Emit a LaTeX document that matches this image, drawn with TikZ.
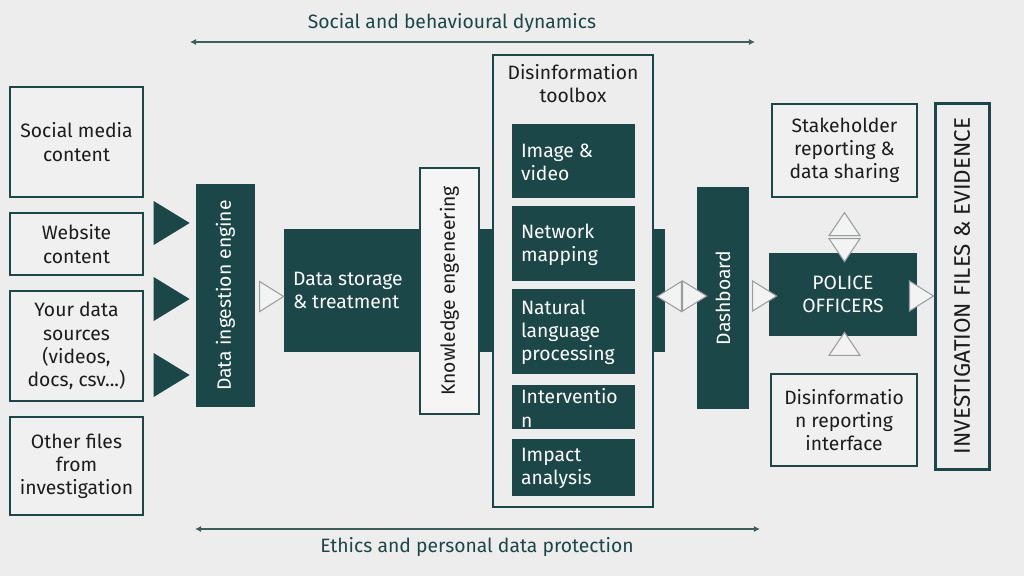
\documentclass[tikz,border=0pt]{standalone}
\usepackage{fontspec}
\setmainfont{Fira Sans}
\usetikzlibrary{positioning,fit,calc,arrows.meta}

\definecolor{darkteal}{HTML}{1B4749}
\definecolor{pagebg}{HTML}{EDEDED}
\definecolor{boxfill}{HTML}{F0F0F0}
\definecolor{kefill}{HTML}{F5F5F5}
\definecolor{hollowline}{HTML}{9A9E9E}
\definecolor{hollowfill}{HTML}{F3F3F3}
\definecolor{inktext}{HTML}{1C1C1C}
\definecolor{dimline}{HTML}{3D5E5F}

\tikzset{
  every node/.style={font=\fontsize{11}{13.2}\selectfont},
  srcbox/.style={draw=darkteal, line width=0.6pt, fill=boxfill, inner sep=0pt},
  darkbox/.style={fill=darkteal, inner sep=0pt},
  boxtext/.style={align=center, text=inktext, inner sep=0pt},
  lighttext/.style={align=center, text=white, inner sep=0pt},
  itemtext/.style={anchor=west, align=left, text=white, inner sep=0pt},
  hollow/.style={draw=hollowline, fill=hollowfill, line width=0.6pt, line join=miter},
  solidtri/.style={fill=darkteal},
  dimarrow/.style={draw=dimline, line width=0.6pt, {Latex[length=3.5pt,width=3.5pt]}-{Latex[length=3.5pt,width=3.5pt]}},
  dimlabel/.style={text=darkteal, font=\fontsize{11}{13}\selectfont},
  % arrow-head shapes, tip at the origin
  bigtri/.pic={\path[pic actions] (-36,-22) -- (0,0) -- (-36,22) -- cycle;},
  rtri/.pic={\path[pic actions] (-24,-15) -- (0,0) -- (-24,15) -- cycle;},
  ltri/.pic={\path[pic actions] (24,-15) -- (0,0) -- (24,15) -- cycle;},
  utri/.pic={\path[pic actions] (-15.5,23) -- (0,0) -- (15.5,23) -- cycle;},
  dtri/.pic={\path[pic actions] (-15.5,-23) -- (0,0) -- (15.5,-23) -- cycle;},
}

\begin{document}
\begin{tikzpicture}[x=0.02cm, y=-0.02cm]
  \useasboundingbox (0,0) rectangle (1024,576);
  \fill[pagebg] (0,0) rectangle (1024,576);

  % Sources
  \node[srcbox, fit={(10,87) (143,197)}] (social) {};
  \node[boxtext] (socialtext) at (social.center) {Social media\\content};
  \node[srcbox, fit={(10,213) (143,275)}] (website) {};
  \node[boxtext] (websitetext) at (website.center) {Website\\content};
  \node[srcbox, fit={(10,291) (143,401)}] (sources) {};
  \node[boxtext] (sourcestext) at (sources.center) {Your data\\sources\\(videos,\\docs, csv...)};
  \node[srcbox, fit={(10,417) (143,515)}] (otherfiles) {};
  \node[boxtext] (otherfilestext) at (otherfiles.center) {Other files\\from\\investigation};

  % Ingestion and storage
  \node[darkbox, fit={(196,184) (255,407)}] (ingest) {};
  \node[lighttext, rotate=90] (ingesttext) at (ingest.center) {Data ingestion engine};
  \node[darkbox, fit={(284,229) (665,352)}] (storage) {};
  \node[itemtext] (storagetext) at ($(storage.west)+(9,0)$) {Data storage\\\& treatment};
  \node[srcbox, fill=kefill, fit={(420,168) (479,414)}] (knowledge) {};
  \node[boxtext, rotate=90] (knowledgetext) at (knowledge.center) {Knowledge engeneering};

  % Toolbox
  \node[srcbox, fill=pagebg, fit={(493,55) (653,507)}] (toolbox) {};
  \node[boxtext] (toolboxtitle) at (573,83.5) {Disinformation\\toolbox};
  \node[darkbox, fit={(512,124) (635,198)}] (image) {};
  \node[itemtext] (imagetext) at ($(image.west)+(9,1)$) {Image \&\\video};
  \node[darkbox, fit={(512,206) (635,281)}] (network) {};
  \node[itemtext] (networktext) at ($(network.west)+(9,1)$) {Network\\mapping};
  \node[darkbox, fit={(512,289) (635,374)}] (nlp) {};
  \node[itemtext] (nlptext) at ($(nlp.west)+(9,1)$) {Natural\\language\\processing};
  \node[darkbox, fit={(512,385) (635,429)}] (intervention) {};
  \node[itemtext] (interventiontext) at ($(intervention.west)+(9,1)$) {Interventio\\n};
  \node[darkbox, fit={(512,439) (635,496)}] (impact) {};
  \node[itemtext] (impacttext) at ($(impact.west)+(9,1)$) {Impact\\analysis};

  % Dashboard and police
  \node[darkbox, fit={(697,187) (749,409)}] (dash) {};
  \node[lighttext, rotate=90] (dashtext) at (dash.center) {Dashboard};
  \node[darkbox, fit={(769,253) (917,336)}] (police) {};
  \node[lighttext] (policetext) at (police.center) {POLICE\\OFFICERS};
  \node[srcbox, fit={(772,104) (917,197)}] (stake) {};
  \node[boxtext] (staketext) at (stake.center) {Stakeholder\\reporting \&\\data sharing};
  \node[srcbox, fit={(771,374) (917,466)}] (report) {};
  \node[boxtext] (reporttext) at (report.center) {Disinformatio\\n reporting\\interface};
  \node[srcbox, line width=1.7pt, fill=pagebg, fit={(935,103) (989,469)}] (invest) {};
  \node[boxtext, rotate=90, font=\fontsize{12.8}{15}\selectfont] (investtext) at (invest.center) {INVESTIGATION FILES \& EVIDENCE};

  % Flow heads
  \pic[solidtri] at ($(ingest.west)+(-6,-72.5)$) {bigtri};
  \pic[solidtri] at ($(ingest.west)+(-6,3.5)$) {bigtri};
  \pic[solidtri] at ($(ingest.west)+(-6,79.5)$) {bigtri};
  \pic[hollow] at ($(storage.west)+(0,6)$) {rtri};
  \pic[hollow] at ($(storage.east)+(-8,6)$) {ltri};
  \pic[hollow] at ($(dash.west)+(10,-2)$) {rtri};
  \pic[hollow] at ($(police.west)+(8,1.5)$) {rtri};
  \pic[hollow] at ($(invest.west)+(0,10)$) {rtri};
  \pic[hollow] at ($(police.north)+(1.5,-40)$) {utri};
  \pic[hollow] at ($(police.north)+(1.5,9)$) {dtri};
  \pic[hollow] at ($(police.south)+(1.5,-4)$) {utri};

  % Cross-cutting themes
  \coordinate (socialleft) at (190,42);
  \coordinate (socialright) at (755,42);
  \draw[dimarrow] (socialleft) -- (socialright);
  \node[dimlabel] (sociallabel) at (452,23) {Social and behavioural dynamics};
  \coordinate (ethicsleft) at (195,529);
  \coordinate (ethicsright) at (760,529);
  \draw[dimarrow] (ethicsleft) -- (ethicsright);
  \node[dimlabel] (ethicslabel) at (477,547) {Ethics and personal data protection};
\end{tikzpicture}
\end{document}
